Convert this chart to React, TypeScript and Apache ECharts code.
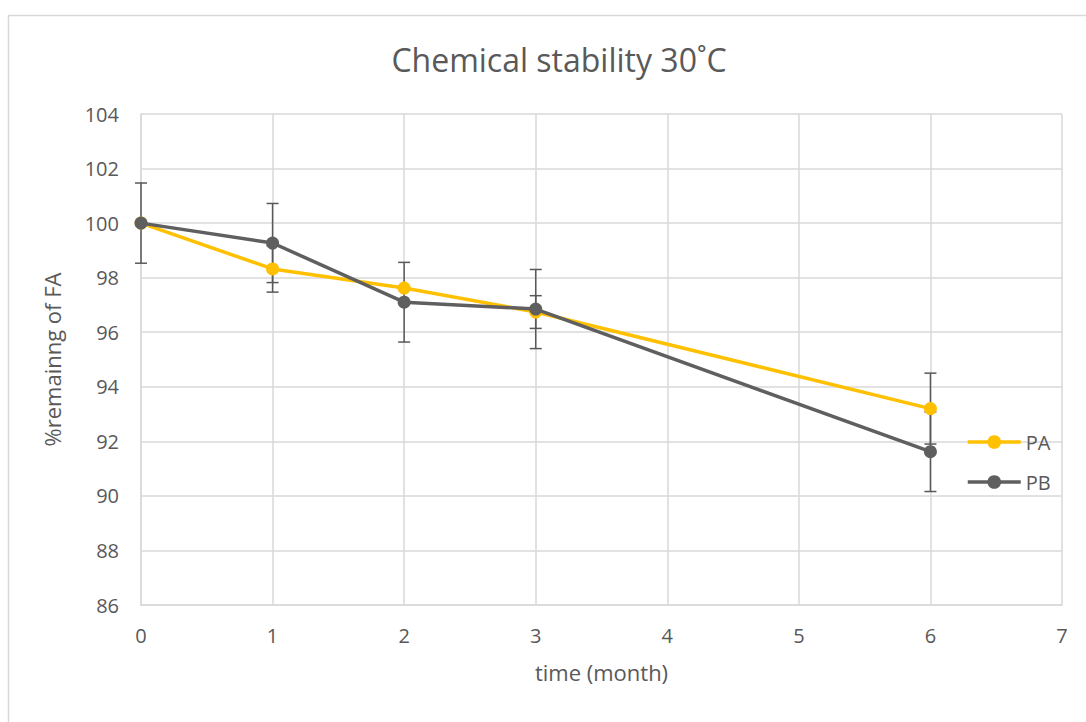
import React, { useEffect, useRef } from "react";
import * as echarts from "echarts";

const months = [0, 1, 2, 3, 6];
const paValues = [100, 98.32, 97.62, 96.74, 93.2];
const pbValues = [100, 99.27, 97.1, 96.85, 91.62];
const paErrors = [0, 0.85, 0, 0.6, 1.3];
const pbErrors = [1.47, 1.45, 1.46, 1.45, 1.46];
const xTicks = [0, 1, 2, 3, 4, 5, 6, 7];
const yMin = 86;
const yMax = 104;

const FONT = "'Open Sans', 'Noto Sans', sans-serif";
const TEXT = "#595959";

function errorData(vals: number[], errs: number[]) {
  return months
    .map((m, i) => [m, vals[i] - errs[i], vals[i] + errs[i]])
    .filter((_, i) => errs[i] > 0);
}

function errorSeries(name: string, vals: number[], errs: number[]) {
  return {
    type: "custom",
    name: name + " err",
    z: 1,
    silent: true,
    data: errorData(vals, errs),
    encode: { x: 0, y: [1, 2] },
    renderItem: (params: any, api: any) => {
      const x = api.value(0);
      const lo = api.coord([x, api.value(1)]);
      const hi = api.coord([x, api.value(2)]);
      const w = 6;
      const style = { stroke: "#595959", lineWidth: 1.5 };
      return {
        type: "group",
        children: [
          { type: "line", shape: { x1: lo[0], y1: lo[1], x2: hi[0], y2: hi[1] }, style },
          { type: "line", shape: { x1: lo[0] - w, y1: lo[1], x2: lo[0] + w, y2: lo[1] }, style },
          { type: "line", shape: { x1: hi[0] - w, y1: hi[1], x2: hi[0] + w, y2: hi[1] }, style },
        ],
      };
    },
  };
}

export default function App() {
  const ref = useRef<HTMLDivElement>(null);
  useEffect(() => {
    document.body.style.margin = "0";
    const chart = echarts.init(ref.current!, undefined, { renderer: "svg" });
    chart.setOption({
      animation: false,
      backgroundColor: "#ffffff",
      title: {
        text: "Chemical stability 30˚C",
        left: 554,
        textAlign: "center",
        top: 38,
        textStyle: { fontFamily: FONT, fontSize: 32, fontWeight: "normal", color: TEXT },
      },
      graphic: [
        {
          type: "rect",
          shape: { x: 8.5, y: 15.5, width: 1200, height: 800 },
          style: { fill: "none", stroke: "#d9d9d9", lineWidth: 1.5 },
          silent: true,
        },
      ],
      legend: {
        orient: "vertical",
        left: 966,
        top: 432,
        padding: 0,
        itemWidth: 53,
        itemHeight: 17,
        itemGap: 20,
        data: ["PA", "PB"],
        lineStyle: { width: 3.5 },
        textStyle: { fontFamily: FONT, fontSize: 20, color: TEXT },
      },
      grid: { left: 141, right: 24, top: 114, bottom: 117 },
      xAxis: {
        type: "value",
        min: xTicks[0],
        max: xTicks[xTicks.length - 1],
        interval: 1,
        name: "time (month)",
        nameLocation: "middle",
        nameGap: 56,
        nameTextStyle: { fontFamily: FONT, fontSize: 22, color: TEXT },
        axisLine: { lineStyle: { color: "#d9d9d9", width: 1.5 } },
        axisTick: { show: false },
        axisLabel: { fontFamily: FONT, fontSize: 20, color: TEXT, margin: 20 },
        splitLine: { show: true, lineStyle: { color: "#d9d9d9", width: 1.5 } },
      },
      yAxis: {
        type: "value",
        min: yMin,
        max: yMax,
        interval: 2,
        name: "%remainng of FA",
        nameLocation: "middle",
        nameGap: 78,
        nameTextStyle: { fontFamily: FONT, fontSize: 22, color: TEXT },
        axisLine: { show: true, lineStyle: { color: "#d9d9d9", width: 1.5 } },
        axisTick: { show: false },
        axisLabel: { fontFamily: FONT, fontSize: 20, color: TEXT, margin: 22 },
        splitLine: { show: true, lineStyle: { color: "#d9d9d9", width: 1.5 } },
      },
      series: [
        errorSeries("PA", paValues, paErrors),
        errorSeries("PB", pbValues, pbErrors),
        {
          name: "PA",
          type: "line",
          z: 3,
          data: months.map((m, i) => [m, paValues[i]]),
          symbol: "circle",
          symbolSize: 13,
          lineStyle: { color: "#FFC000", width: 3.5 },
          itemStyle: { color: "#FFC000" },
        },
        {
          name: "PB",
          type: "line",
          z: 4,
          data: months.map((m, i) => [m, pbValues[i]]),
          symbol: "circle",
          symbolSize: 13,
          lineStyle: { color: "#5f5f5f", width: 3.5 },
          itemStyle: { color: "#5f5f5f" },
        },
      ],
    });
    return () => chart.dispose();
  }, []);
  return <div ref={ref} style={{ width: 1086, height: 722 }} />;
}
